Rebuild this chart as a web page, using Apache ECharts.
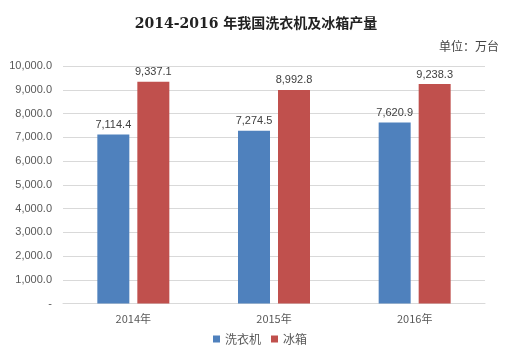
<!DOCTYPE html>
<html><head><meta charset="utf-8">
<script src="https://cdn.jsdelivr.net/npm/echarts@6/dist/echarts.min.js"></script>
<style>html,body{margin:0;padding:0;background:#fff}#c{width:520px;height:362px}</style>
</head><body><div id="c"></div>
<script>
const categories = ['2014年', '2015年', '2016年'];
const washers = [7114.4, 7274.5, 7620.9];
const fridges = [9337.1, 8992.8, 9238.3];
const seriesNames = ['洗衣机', '冰箱'];
const fmt = v => v === 0 ? '-' : v.toLocaleString('en-US', {minimumFractionDigits: 1, maximumFractionDigits: 1});
const chart = echarts.init(document.getElementById('c'));
const labelStyle = {show: true, position: 'top', distance: 4, color: '#404040', fontSize: 11, fontFamily: 'Liberation Sans, sans-serif', formatter: p => fmt(p.value)};
chart.setOption({
  animation: false,
  title: [
    {text: '2014-2016 年我国洗衣机及冰箱产量', left: 251, top: 12, textAlign: 'center',
     textStyle: {fontSize: 14, fontWeight: 'bold', color: '#222', fontFamily: 'DejaVu Serif, Noto Sans CJK SC, serif'}},
    {text: '单位：万台', right: 16, top: 35,
     textStyle: {fontSize: 12, fontWeight: 'normal', color: '#444', fontFamily: 'Noto Sans CJK SC, sans-serif'}}
  ],
  legend: {data: seriesNames, bottom: 12, left: 'center', itemWidth: 7, itemHeight: 7, itemGap: 10,
    icon: 'rect', textStyle: {fontSize: 12, color: '#595959', fontFamily: 'Noto Sans CJK SC, sans-serif'}},
  grid: {left: 63, right: 35, top: 66, bottom: 58.5, containLabel: false},
  xAxis: {type: 'category', data: categories,
    axisLine: {lineStyle: {color: '#d9d9d9'}}, axisTick: {show: false},
    axisLabel: {color: '#595959', fontSize: 11, margin: 10, fontFamily: 'Noto Sans CJK SC, sans-serif'}},
  yAxis: {type: 'value', min: 0, max: 10000, interval: 1000,
    axisLine: {show: false}, axisTick: {show: false},
    splitLine: {lineStyle: {color: '#d9d9d9'}},
    axisLabel: {color: '#595959', fontSize: 11, margin: 11, fontFamily: 'Liberation Sans, sans-serif', formatter: fmt}},
  series: [
    {name: seriesNames[0], type: 'bar', data: washers, barWidth: 32, barGap: '25%', itemStyle: {color: '#4F81BD'}, label: labelStyle},
    {name: seriesNames[1], type: 'bar', data: fridges, barWidth: 32, itemStyle: {color: '#C0504D'}, label: labelStyle}
  ]
});
</script></body></html>
